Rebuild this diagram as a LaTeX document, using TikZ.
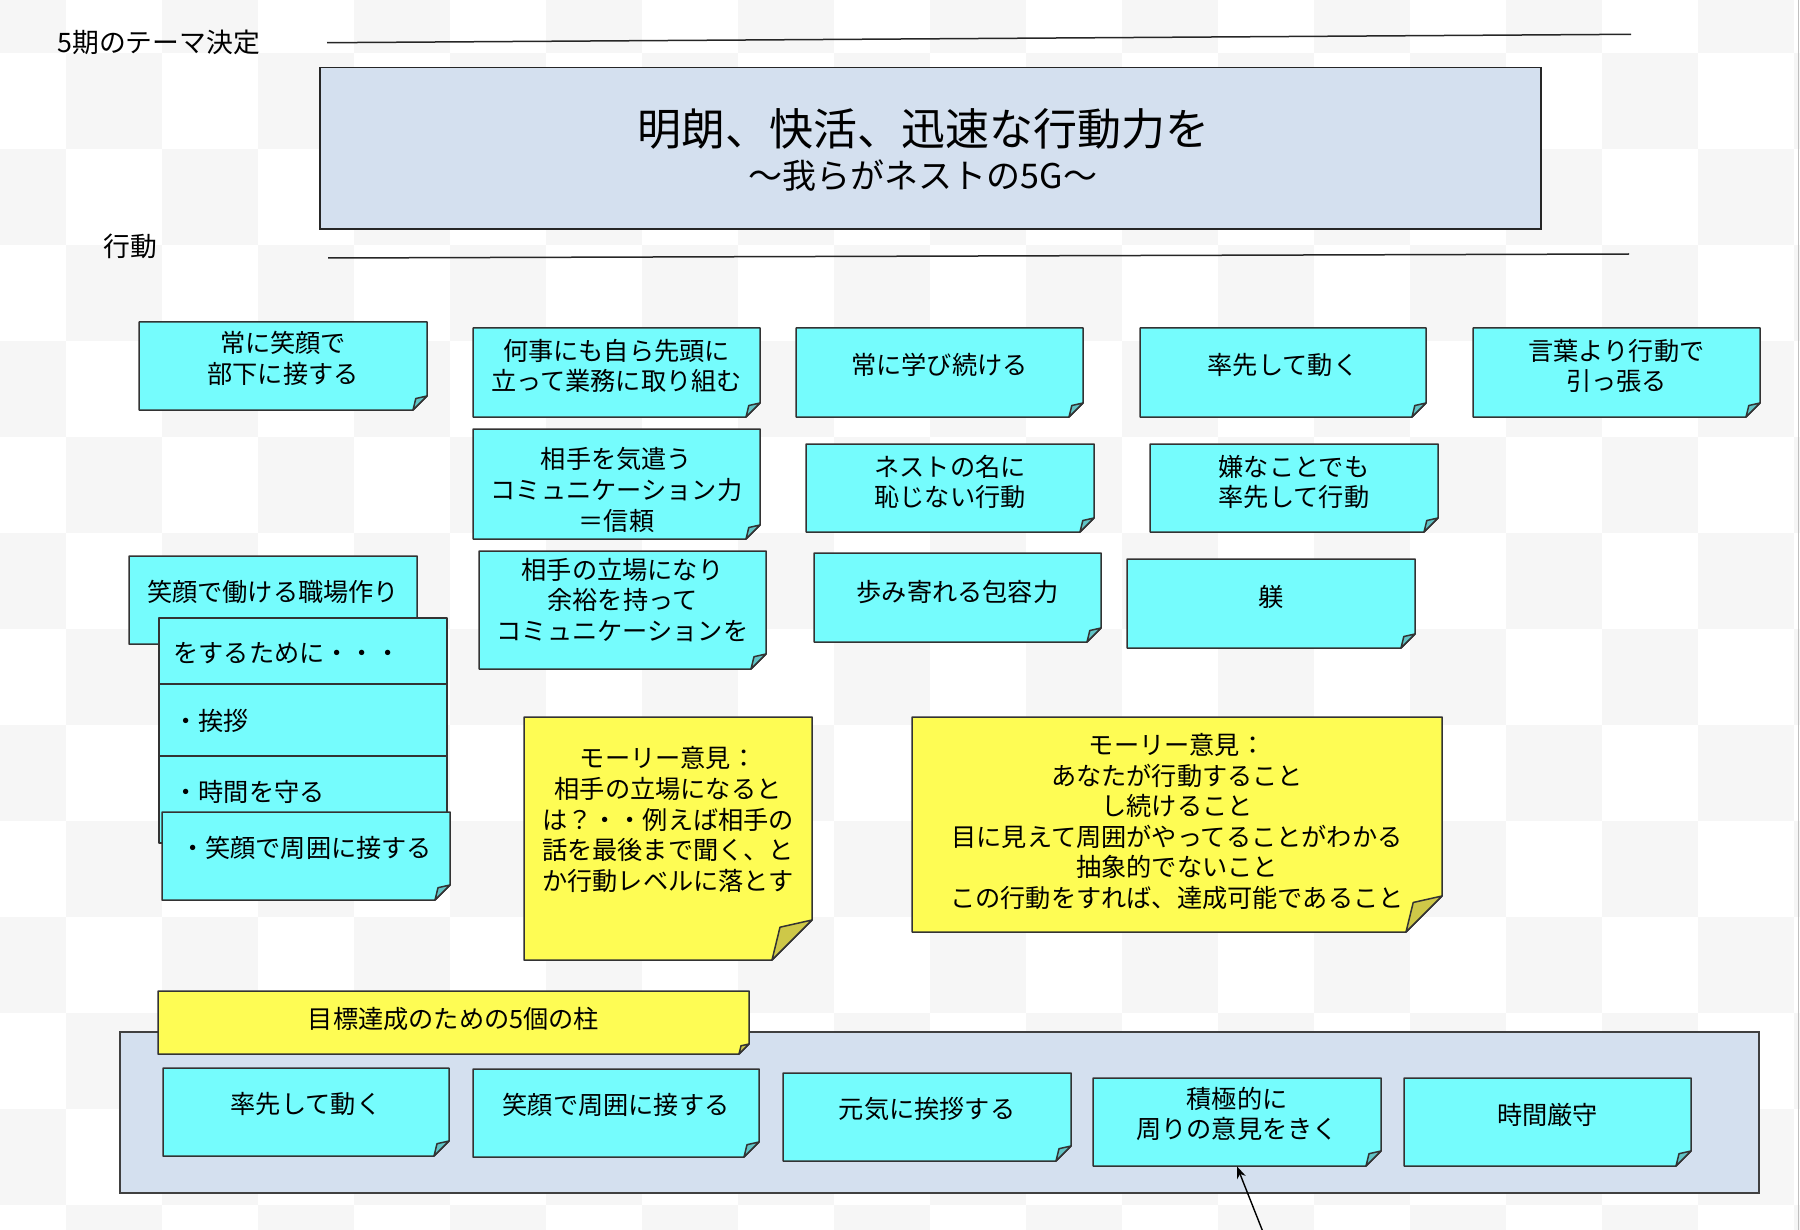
\documentclass[tikz,border=0pt]{standalone}
\usepackage{fontspec}
\setmainfont{Noto Sans CJK JP}
\usetikzlibrary{calc,fit,arrows.meta}

\definecolor{noteaqua}{RGB}{117,252,253}
\definecolor{foldaqua}{RGB}{96,196,198}
\definecolor{notelemon}{RGB}{254,252,84}
\definecolor{foldlemon}{RGB}{206,200,72}
\definecolor{panelblue}{RGB}{212,224,239}
\definecolor{checker}{RGB}{246,246,246}

\tikzset{
  aqua body/.style={fill=noteaqua,draw=black!80,line width=0.75pt,line join=round},
  aqua fold/.style={fill=foldaqua,draw=black!80,line width=0.75pt,line join=round},
  lemon body/.style={fill=notelemon,draw=black!80,line width=0.75pt,line join=round},
  lemon fold/.style={fill=foldlemon,draw=black!80,line width=0.75pt,line join=round},
  notetext/.style={font=\fontsize{12.6}{15.3}\selectfont,align=center,inner sep=0pt},
  headtext/.style={font=\fontsize{13.4}{15}\selectfont,inner sep=0pt},
  panel/.style={fill=panelblue,draw=black!85,line width=0.75pt,inner sep=0pt},
  ruleline/.style={draw=black!85,line width=0.75pt}
}

% [text lift]{colour}{name}{top left}{bottom right}{fold}{text}
\newcommand{\stickynote}[7][0]{%
  \coordinate (#3-nw) at (#4);
  \coordinate (#3-se) at (#5);
  \filldraw[#2 body] (#3-nw) -- (#3-nw -| #3-se) -- ($(#3-se)+(0,-#6)$)
    -- ($(#3-se)+(-#6,0)$) -- (#3-nw |- #3-se) -- cycle;
  \filldraw[#2 fold] ($(#3-se)+(0,-#6)$) -- ($(#3-se)+(-0.8*#6,-0.82*#6)$)
    -- ($(#3-se)+(-#6,0)$) -- cycle;
  \node[fit=(#3-nw)(#3-se),inner sep=0pt] (#3) {};
  \node[notetext] (#3-text) at ($(#3.center)+(0,-#1)$) {#7};
}

\begin{document}
\begin{tikzpicture}[x=0.5pt,y=-0.5pt]
\useasboundingbox (0,0) rectangle (1800,1230);
\begin{scope}
  \clip (0,0) rectangle (1800,1230);
  \foreach \col in {-1,...,18}{
    \foreach \row in {-1,...,12}{
      \pgfmathtruncatemacro{\parity}{mod(\col+\row+4,2)}
      \ifnum\parity=0
        \fill[checker] ({66+96*\col},{53+96*\row}) rectangle +(96,96);
      \fi
    }
  }
\end{scope}
\draw[black!25,line width=0.8pt] (1798.5,0) -- (1798.5,1230);

\node[headtext,anchor=west] (termlabel) at (57,42) {5期のテーマ決定};
\node[headtext] (actlabel) at (130,246) {行動};
\draw[ruleline] (327,42.7) -- (1631,34.3);
\draw[ruleline] (328,258) -- (1629,254);

\node[panel,minimum width=610.5pt,minimum height=80.75pt] (themebox) at (930.5,148.5) {};
\node[font=\fontsize{22}{26}\selectfont,inner sep=0pt] (theme) at (923,129) {明朗、快活、迅速な行動力を};
\node[font=\fontsize{17}{20}\selectfont,inner sep=0pt] (subtheme) at (923,176) {〜我らがネストの5G〜};

\stickynote[7.5]{aqua}{smile}{139,322}{427,410}{14}{常に笑顔で\\部下に接する}
\stickynote[6.5]{aqua}{lead}{473,328}{760,417}{14}{何事にも自ら先頭に\\立って業務に取り組む}
\stickynote[-6]{aqua}{care}{473,429}{760,539}{14}{相手を気遣う\\コミュニケーション力\\＝信頼}
\stickynote[10]{aqua}{stance}{479,551}{766,669}{15}{相手の立場になり\\余裕を持って\\コミュニケーションを}
\stickynote[7.5]{aqua}{learn}{796,328}{1083,417}{14}{常に学び続ける}
\stickynote[7.5]{aqua}{initiative}{1140,328}{1426,417}{14}{率先して動く}
\stickynote[6.5]{aqua}{words}{1473,328}{1760,417}{14}{言葉より行動で\\引っ張る}
\stickynote[6]{aqua}{honour}{806,444}{1094,532}{14}{ネストの名に\\恥じない行動}
\stickynote[6]{aqua}{effort}{1150,444}{1438,532}{14}{嫌なことでも\\率先して行動}
\stickynote[6]{aqua}{tolerance}{814,553}{1101,642}{14}{歩み寄れる包容力}
\stickynote[7]{aqua}{discipline}{1127,559}{1415,648}{14}{躾}

\stickynote[8]{aqua}{workplace}{129,556}{417,644}{14}{笑顔で働ける職場作り}
\filldraw[aqua body] (159,618) rectangle (447,843);
\draw[aqua body] (159,684) -- (447,684) (159,756) -- (447,756);
\node[notetext,anchor=west] (purpose) at (173,653) {をするために・・・};
\node[notetext,anchor=west] (greeting) at (173,721) {・挨拶};
\node[notetext,anchor=west] (timekeeping) at (173,792) {・時間を守る};
\stickynote[8]{aqua}{friendly}{162,812}{450,900}{15}{・笑顔で周囲に接する}

\stickynote[19]{lemon}{moriA}{524,717}{812,960}{40}{モーリー意見：\\相手の立場になると\\は？・・例えば相手の\\話を最後まで聞く、と\\か行動レベルに落とす}
\stickynote[3]{lemon}{moriB}{912,717}{1442,932}{36}{モーリー意見：\\あなたが行動すること\\し続けること\\目に見えて周囲がやってることがわかる\\抽象的でないこと\\この行動をすれば、達成可能であること}

\node[panel,draw=black!75,line width=1pt,minimum width=819.5pt,minimum height=80.5pt] (pillarpanel) at (939.5,1112.5) {};
\stickynote[4]{lemon}{pillartitle}{158,991}{749,1054}{10}{目標達成のための5個の柱}
\stickynote[8]{aqua}{pillarlead}{163,1068}{449,1156}{15}{率先して動く}
\stickynote[8]{aqua}{pillarsmile}{473,1069}{759,1157}{15}{笑顔で周囲に接する}
\stickynote[8]{aqua}{pillargreet}{783,1073}{1071,1161}{15}{元気に挨拶する}
\stickynote[8]{aqua}{listen}{1093,1078}{1381,1166}{15}{積極的に\\周りの意見をきく}
\stickynote[7]{aqua}{pillartime}{1404,1078}{1691,1166}{15}{時間厳守}

\coordinate (pointerfoot) at (1263,1232);
\draw[-{Stealth[length=6pt,width=4.6pt]},line width=0.7pt] (pointerfoot) -- (listen.south);
\end{tikzpicture}
\end{document}
